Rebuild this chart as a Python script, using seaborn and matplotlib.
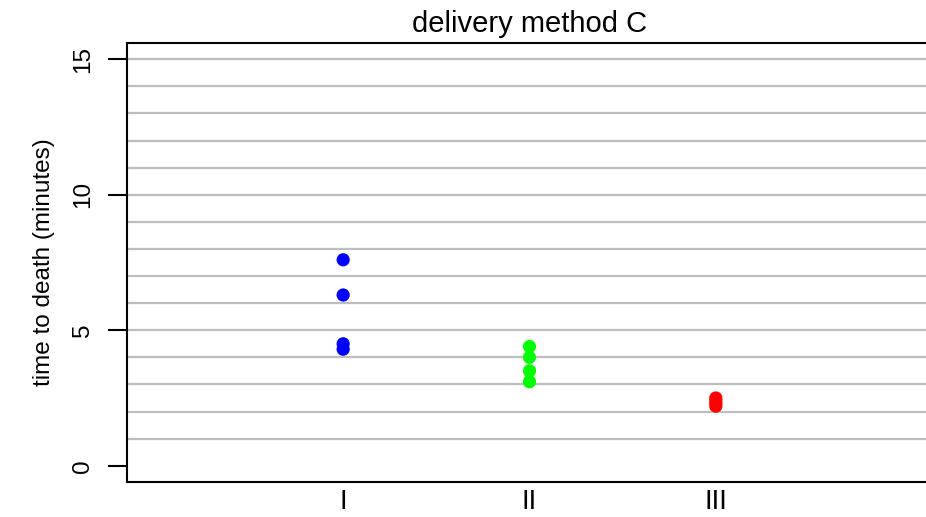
import matplotlib
matplotlib.use("Agg")
import matplotlib.pyplot as plt
import seaborn as sns
import pandas as pd

# Time to death per dose group under delivery method C
groups = ["I", "II", "III"]
times_I = [7.6, 6.3, 4.5, 4.3]
times_II = [4.4, 4.0, 3.5, 3.1]
times_III = [2.5, 2.4, 2.3, 2.2]
colors = ["#0000FF", "#00FF00", "#FF0000"]

df = pd.DataFrame({
    "group": ["I"] * len(times_I) + ["II"] * len(times_II) + ["III"] * len(times_III),
    "time": times_I + times_II + times_III,
})

sns.set_style("white")
plt.rcParams["font.family"] = ["Liberation Sans", "DejaVu Sans"]
plt.rcParams["text.color"] = "black"
plt.rcParams["axes.labelcolor"] = "black"
plt.rcParams["xtick.color"] = "black"
plt.rcParams["ytick.color"] = "black"

fig = plt.figure(figsize=(9.26, 5.17), dpi=100)
W, H = 926, 517
left, right, top, bottom = 127, 932, 43, 482
ax = fig.add_axes([left / W, 1 - bottom / H, (right - left) / W, (bottom - top) / H])

# horizontal reference lines at every minute
for y in range(1, 16):
    ax.axhline(y, color="#BEBEBE", lw=1.6, zorder=0)

sns.stripplot(data=df, x="group", y="time", hue="group", order=groups,
              hue_order=groups, palette=colors, jitter=False, size=9.5,
              linewidth=0, legend=False, ax=ax, zorder=3)

ax.set_xlim(-1.16, 3.16)
ax.set_ylim(-0.6, 15.6)
ax.set_yticks([0, 5, 10, 15])
ax.set_yticklabels(["0", "5", "10", "15"], rotation=90, va="center", fontsize=17.5)
ax.tick_params(axis="y", length=14, width=1.5, pad=10, color="black", left=True)
ax.tick_params(axis="x", length=0, pad=5, labelsize=20)
ax.set_xticks([0, 1, 2])
ax.set_xticklabels(groups)
ax.set_xlabel("")
ax.set_ylabel("time to death (minutes)", fontsize=17.5, labelpad=12)
ax.set_title("delivery method C", fontsize=21, pad=8, color="black")

for side in ["left", "top", "bottom"]:
    ax.spines[side].set_visible(True)
    ax.spines[side].set_color("black")
    ax.spines[side].set_linewidth(1.5)
ax.spines["right"].set_visible(False)

fig.savefig("out.png", dpi=100)
